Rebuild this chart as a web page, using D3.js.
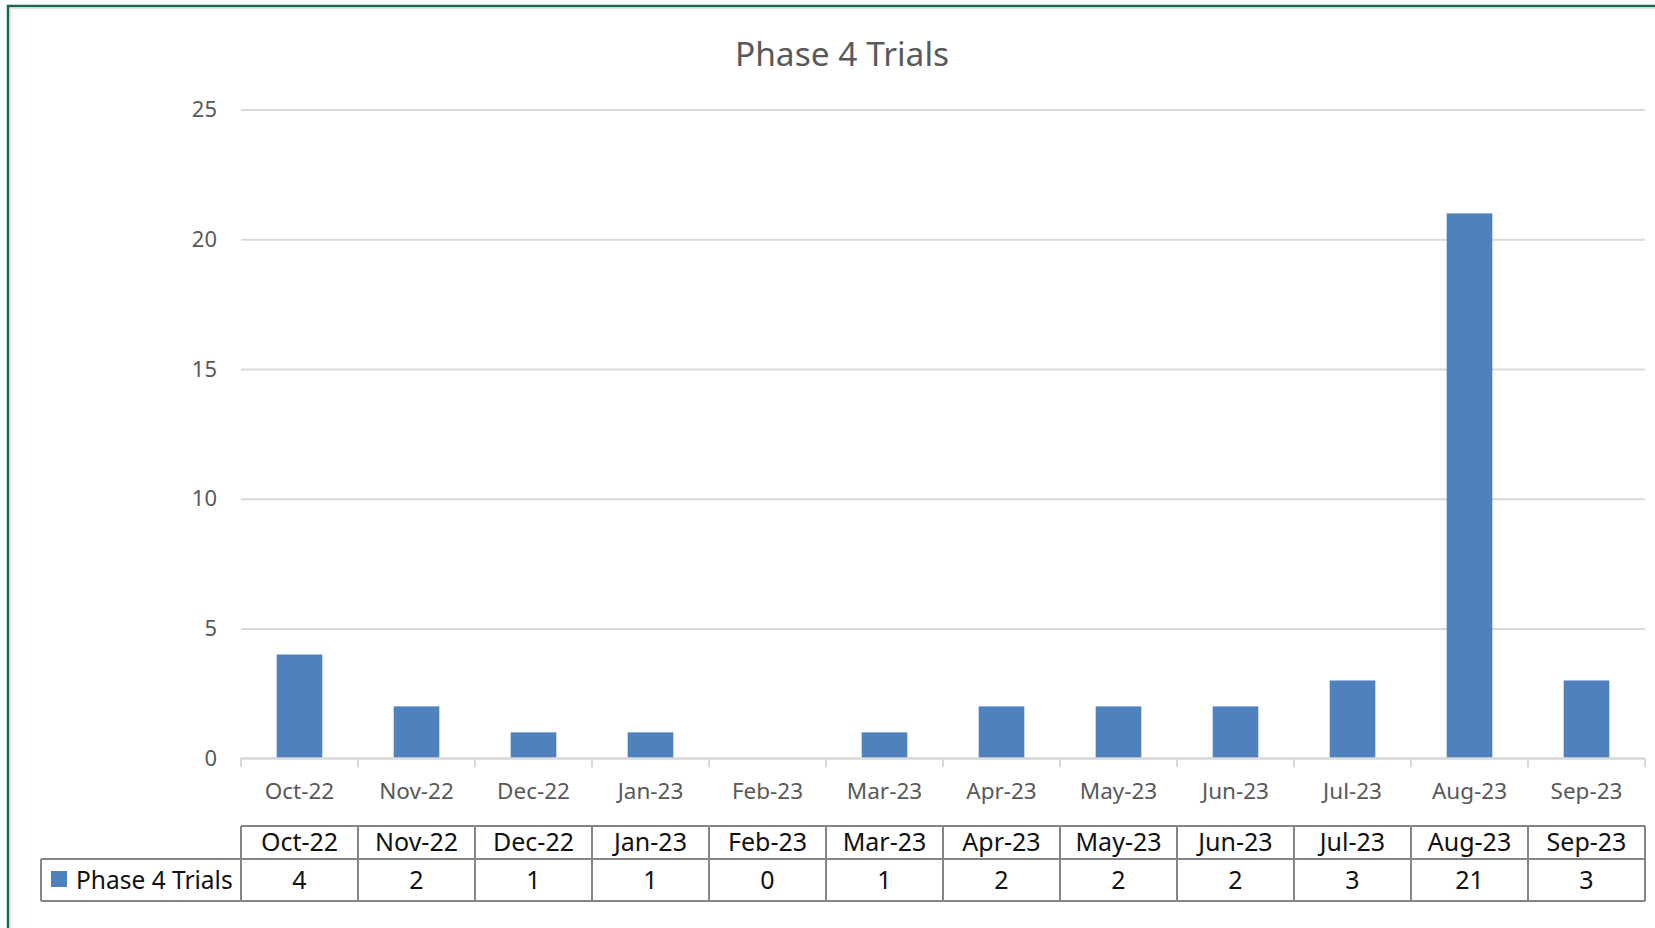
<!DOCTYPE html>
<html>
<head>
<meta charset="utf-8">
<script src="https://cdn.jsdelivr.net/npm/d3@7"></script>
<style>
  body { margin: 0; background: #fff; }
  svg { display: block; font-family: "Noto Sans", "Open Sans", sans-serif; }
</style>
</head>
<body>
<svg width="1655" height="928"></svg>
<script>
// data
let months = ["Oct-22", "Nov-22", "Dec-22", "Jan-23", "Feb-23", "Mar-23",
              "Apr-23", "May-23", "Jun-23", "Jul-23", "Aug-23", "Sep-23"];
let trials = [4, 2, 1, 1, 0, 1, 2, 2, 2, 3, 21, 3];
let y_ticks = [0, 5, 10, 15, 20, 25];
let series_name = "Phase 4 Trials";
let chart_title = "Phase 4 Trials";

// layout
let plot = { left: 241, right: 1645, top: 109.6, bottom: 758.3 };
let table = { left: 41, top: 826, mid: 859, bottom: 901 };
let bar_color = "#4f81bd";
let grid_color = "#d9d9d9";
let label_color = "#595959";
let table_line = "#858585";

let svg = d3.select("svg");

// frame (green border, top and left)
svg.append("path")
  .attr("d", "M8,928 V6 H1655")
  .attr("fill", "none")
  .attr("stroke", "#14684f")
  .attr("stroke-width", 2.5);
svg.append("path")
  .attr("d", "M10.5,928 V8.5 H1655")
  .attr("fill", "none")
  .attr("stroke", "#e2e2e2")
  .attr("stroke-width", 1.5);

// scales
let x = d3.scaleBand()
  .domain(months)
  .range([plot.left, plot.right])
  .paddingInner(0.61)
  .paddingOuter(0.305);

let xcat = d3.scaleBand()
  .domain(months)
  .range([plot.left, plot.right])
  .padding(0);

let y = d3.scaleLinear()
  .domain([0, 25])
  .range([plot.bottom, plot.top]);

// title
svg.append("text")
  .attr("x", 842)
  .attr("y", 53)
  .attr("text-anchor", "middle")
  .attr("dominant-baseline", "central")
  .attr("font-size", 33.5)
  .attr("fill", label_color)
  .text(chart_title);

// gridlines + y labels
let yAxis = d3.axisLeft(y)
  .tickValues(y_ticks)
  .tickSize(-(plot.right - plot.left))
  .tickPadding(24);

let gy = svg.append("g")
  .attr("transform", "translate(" + plot.left + ",0)")
  .call(yAxis);
gy.select(".domain").remove();
gy.selectAll(".tick line")
  .attr("stroke", grid_color)
  .attr("stroke-width", 2);
gy.selectAll(".tick text")
  .attr("font-size", 22)
  .attr("fill", label_color)
  .attr("font-family", "Noto Sans, sans-serif");

// bars
svg.append("g")
  .selectAll("rect")
  .data(months)
  .join("rect")
    .attr("x", d => x(d))
    .attr("width", x.bandwidth())
    .attr("y", (d, i) => y(trials[i]))
    .attr("height", (d, i) => y(0) - y(trials[i]))
    .attr("fill", bar_color);

// x axis line + ticks between categories
let bounds = months.map(d => xcat(d)).concat([plot.right]);
let gx = svg.append("g");
gx.append("line")
  .attr("x1", plot.left).attr("x2", plot.right)
  .attr("y1", y(0)).attr("y2", y(0))
  .attr("stroke", grid_color)
  .attr("stroke-width", 2);
gx.selectAll("line.tk")
  .data(bounds)
  .join("line")
    .attr("class", "tk")
    .attr("x1", d => d).attr("x2", d => d)
    .attr("y1", y(0)).attr("y2", y(0) + 9)
    .attr("stroke", grid_color)
    .attr("stroke-width", 2);
gx.selectAll("text")
  .data(months)
  .join("text")
    .attr("x", d => xcat(d) + xcat.bandwidth() / 2)
    .attr("y", 790)
    .attr("text-anchor", "middle")
    .attr("dominant-baseline", "central")
    .attr("font-size", 22.5)
    .attr("fill", label_color)
    .text(d => d);

// data table
let gt = svg.append("g");
let hl = (x1, x2, yy) => gt.append("line")
  .attr("x1", x1).attr("x2", x2).attr("y1", yy).attr("y2", yy)
  .attr("stroke", table_line).attr("stroke-width", 2);

hl(plot.left, plot.right, table.top);
hl(table.left, plot.right, table.mid);
hl(table.left, plot.right, table.bottom);

gt.append("line")
  .attr("x1", table.left).attr("x2", table.left)
  .attr("y1", table.mid).attr("y2", table.bottom)
  .attr("stroke", table_line).attr("stroke-width", 2);

gt.selectAll("line.v")
  .data(bounds)
  .join("line")
    .attr("class", "v")
    .attr("x1", d => d).attr("x2", d => d)
    .attr("y1", table.top).attr("y2", table.bottom)
    .attr("stroke", table_line)
    .attr("stroke-width", 2);

gt.selectAll("text.hdr")
  .data(months)
  .join("text")
    .attr("class", "hdr")
    .attr("x", d => xcat(d) + xcat.bandwidth() / 2)
    .attr("y", (table.top + table.mid) / 2 - 1.5)
    .attr("text-anchor", "middle")
    .attr("dominant-baseline", "central")
    .attr("font-size", 25)
    .attr("fill", "#111")
    .text(d => d);

gt.selectAll("text.val")
  .data(months)
  .join("text")
    .attr("class", "val")
    .attr("x", d => xcat(d) + xcat.bandwidth() / 2)
    .attr("y", (table.mid + table.bottom) / 2 - 1)
    .attr("text-anchor", "middle")
    .attr("dominant-baseline", "central")
    .attr("font-size", 25)
    .attr("fill", "#111")
    .text((d, i) => trials[i]);

// legend key in table
gt.append("rect")
  .attr("x", 51).attr("y", 871)
  .attr("width", 16).attr("height", 16)
  .attr("fill", bar_color);
gt.append("text")
  .attr("x", 76)
  .attr("y", (table.mid + table.bottom) / 2 - 1)
  .attr("dominant-baseline", "central")
  .attr("font-size", 24.5)
  .attr("fill", "#111")
  .text(series_name);
</script>
</body>
</html>
